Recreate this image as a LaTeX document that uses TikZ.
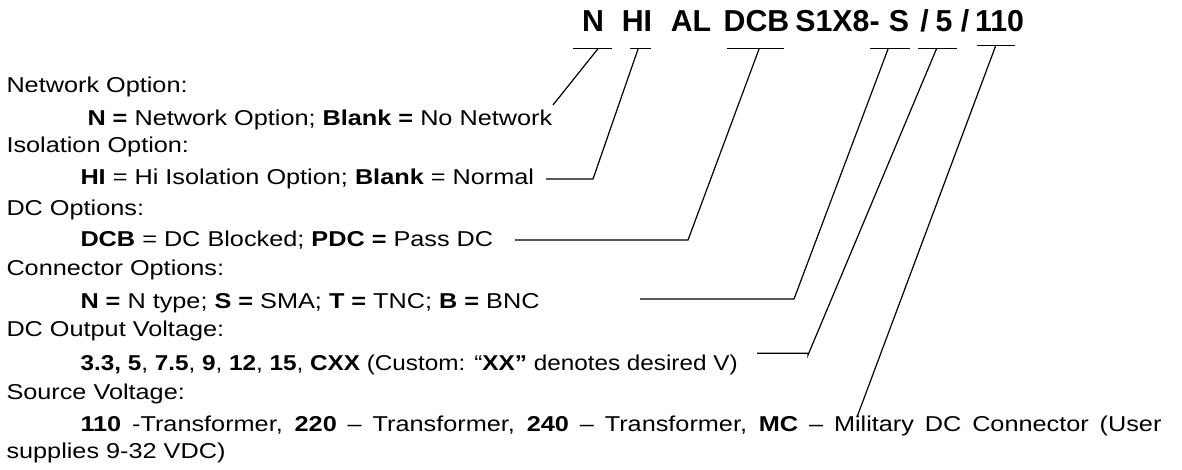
\documentclass[tikz,border=0pt]{standalone}
\usepackage{fontspec}
\setmainfont{Liberation Sans}[FakeStretch=1.175]
\newfontfamily\ttlfont{Liberation Sans}
\newfontfamily\nrwfont{Liberation Sans}[FakeStretch=1.13]
\begin{document}
\begin{tikzpicture}[x=1pt,y=-1pt,
  txt/.style={anchor=base west,inner sep=0pt,outer sep=0pt,font=\fontsize{21.5}{25}\selectfont},
  ttl/.style={anchor=base,inner sep=0pt,outer sep=0pt,font=\fontsize{30.3}{34}\selectfont\ttlfont\bfseries},
  lead/.style={draw=black,line width=1.2pt,line join=miter}]
\useasboundingbox[fill=white] (0,0) rectangle (1182,470);
% title tokens
\node[ttl] (tN)   at (593,31.7) {N};
\node[ttl] (tHI)  at (637,31.7) {HI};
\node[ttl] (tAL)  at (691,31.7) {AL};
\node[ttl] (tDCB) at (756.5,31.7) {DCB};
\node[ttl] (tS1)  at (837.5,31.7) {S1X8-};
\node[ttl] (tS)   at (899,31.7) {S};
\node[ttl] (tsl1) at (924.5,31.7) {/};
\node[ttl] (t5)   at (944,31.7) {5};
\node[ttl] (tsl2) at (965,31.7) {/};
\node[ttl] (t110) at (999.5,31.7) {110};
% descriptions
\node[txt] (h1) at (6.5,92.7) {Network Option:};
\node[txt] (d1) at (87.5,125.3) {\textbf{N =} Network Option; \textbf{Blank =} No Network};
\node[txt] (h2) at (6.5,152.7) {Isolation Option:};
\node[txt] (d2) at (80.5,184.3) {\textbf{HI} = Hi Isolation Option; \textbf{Blank} = Normal};
\node[txt] (h3) at (6.5,216) {DC Options:};
\node[txt] (d3) at (80.5,246.7) {\textbf{DCB} = DC Blocked; \textbf{PDC =} Pass DC};
\node[txt] (h4) at (6.5,275) {Connector Options:};
\node[txt] (d4) at (80.5,308) {\textbf{N =} N type; \textbf{S =} SMA; \textbf{T =} TNC; \textbf{B =} BNC};
\node[txt] (h5) at (6.5,336) {DC Output Voltage:};
\node[txt] (d5) at (80.5,370) {\nrwfont\textbf{3.3, 5}, \textbf{7.5}, \textbf{9}, \textbf{12}, \textbf{15}, \textbf{CXX} (Custom: “\textbf{XX”} denotes desired V)};
\node[txt] (h6) at (6.5,399.3) {Source Voltage:};
\node[txt] (d6) at (80.5,431.7) {\hbox to 1081pt{\textbf{110} -Transformer, \textbf{220} – Transformer, \textbf{240} – Transformer, \textbf{MC} – Military DC Connector (User}};
\node[txt] (d7) at (6.5,458.3) {supplies 9-32 VDC)};
% leader coordinates
\coordinate (a1) at (573,48.3);  \coordinate (b1) at (612,48.3);  \coordinate (s1) at (598.3,48.3);
\coordinate (e1) at (553,105);
\coordinate (a2) at (630,48.3);  \coordinate (b2) at (651,48.3);  \coordinate (s2) at (638.3,48.3);
\coordinate (e2) at (593,179);   \coordinate (f2) at (546,179);
\coordinate (a3) at (727,48.3);  \coordinate (b3) at (784,48.3);  \coordinate (s3) at (759.3,48.3);
\coordinate (e3) at (688,240);   \coordinate (f3) at (515,240);
\coordinate (a4) at (870,48.3);  \coordinate (b4) at (910,48.3);  \coordinate (s4) at (888.3,48.3);
\coordinate (e4) at (794,299);   \coordinate (f4) at (640,299);
\coordinate (a5) at (918,48.3);  \coordinate (b5) at (957,48.3);  \coordinate (s5) at (936.7,48.3);
\coordinate (e5) at (808,355);   \coordinate (g5) at (808,353.3); \coordinate (f5) at (757,353.3);
\coordinate (a6) at (977,45.7);  \coordinate (b6) at (1015,45.7); \coordinate (s6) at (995.7,45.7);
\coordinate (e6) at (857,417);
% leaders
\draw[lead] (a1) -- (b1); \draw[lead] (s1) -- (e1);
\draw[lead] (a2) -- (b2); \draw[lead] (s2) -- (e2) -- (f2);
\draw[lead] (a3) -- (b3); \draw[lead] (s3) -- (e3) -- (f3);
\draw[lead] (a4) -- (b4); \draw[lead] (s4) -- (e4) -- (f4);
\draw[lead] (a5) -- (b5); \draw[lead] (s5) -- (e5) -- (g5) -- (f5);
\draw[lead] (a6) -- (b6); \draw[lead] (s6) -- (e6);
\end{tikzpicture}
\end{document}
